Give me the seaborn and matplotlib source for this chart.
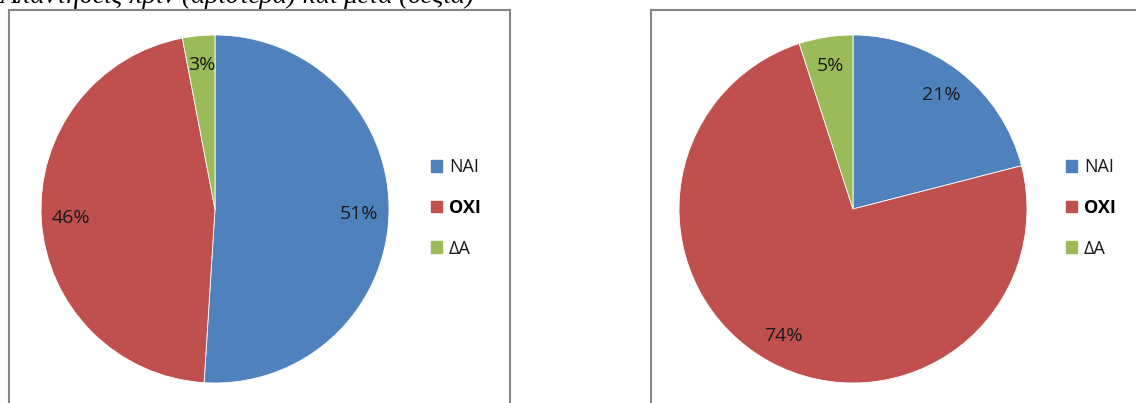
import matplotlib
matplotlib.use("Agg")
import matplotlib.pyplot as plt
import seaborn as sns
from matplotlib.patches import Rectangle, Patch

categories = ["ΝΑΙ", "ΟΧΙ", "ΔΑ"]
before_values = [51, 46, 3]
after_values = [21, 74, 5]
title_text = "Απαντήσεις πριν (αριστερά) και μετά (δεξιά)"

sns.set_theme(style="white")
plt.rcParams["font.family"] = ["Open Sans", "DejaVu Sans"]

colors = sns.color_palette(["#4F81BD", "#C0504D", "#9BBB59"])

W, H = 1136, 403
fig = plt.figure(figsize=(W / 100, H / 100), dpi=100)
fig.patch.set_facecolor("white")


def fx(px):
    return px / W


def fy(py):
    return 1 - py / H


# chart frames
for x0, x1 in [(9, 510), (651, 1145)]:
    rect = Rectangle((fx(x0), fy(420)), fx(x1 - x0), (420 - 10) / H,
                     transform=fig.transFigure, fill=False,
                     edgecolor="#868686", linewidth=1.5)
    fig.add_artist(rect)

# caption at top (clipped by the page edge, as in the source)
fig.text(fx(0), fy(3), title_text, ha="left", va="baseline",
         fontsize=19.5, style="italic", family=["Liberation Serif", "DejaVu Serif"],
         color="black")


def draw_pie(cx, values, legend_x):
    r = 174
    ax = fig.add_axes([fx(cx - r), fy(209 + r), fx(2 * r), 2 * r / H])
    wedges, texts, autotexts = ax.pie(
        values, colors=colors, startangle=90, counterclock=False,
        autopct=lambda p: f"{p:.0f}%", pctdistance=0.83,
        wedgeprops=dict(linewidth=0.6, edgecolor="white"),
        textprops=dict(fontsize=14, color="#1a1a1a"))
    ax.set_xlim(-1, 1)
    ax.set_ylim(-1, 1)
    ax.set_axis_off()
    handles = [Patch(facecolor=c, edgecolor=c) for c in colors]
    leg = fig.legend(handles, categories, loc="center left",
                     bbox_to_anchor=(fx(legend_x), fy(208)),
                     bbox_transform=fig.transFigure, frameon=False,
                     fontsize=13, handlelength=0.6, handleheight=0.6,
                     handletextpad=0.4, labelspacing=1.25,
                     borderpad=0, borderaxespad=0)
    for t in leg.get_texts():
        t.set_color("#1a1a1a")
    leg.get_texts()[1].set_fontweight("bold")
    leg.get_texts()[1].set_color("black")
    return ax


draw_pie(215, before_values, 431)
draw_pie(853, after_values, 1066)

fig.savefig("out.png", dpi=100)
